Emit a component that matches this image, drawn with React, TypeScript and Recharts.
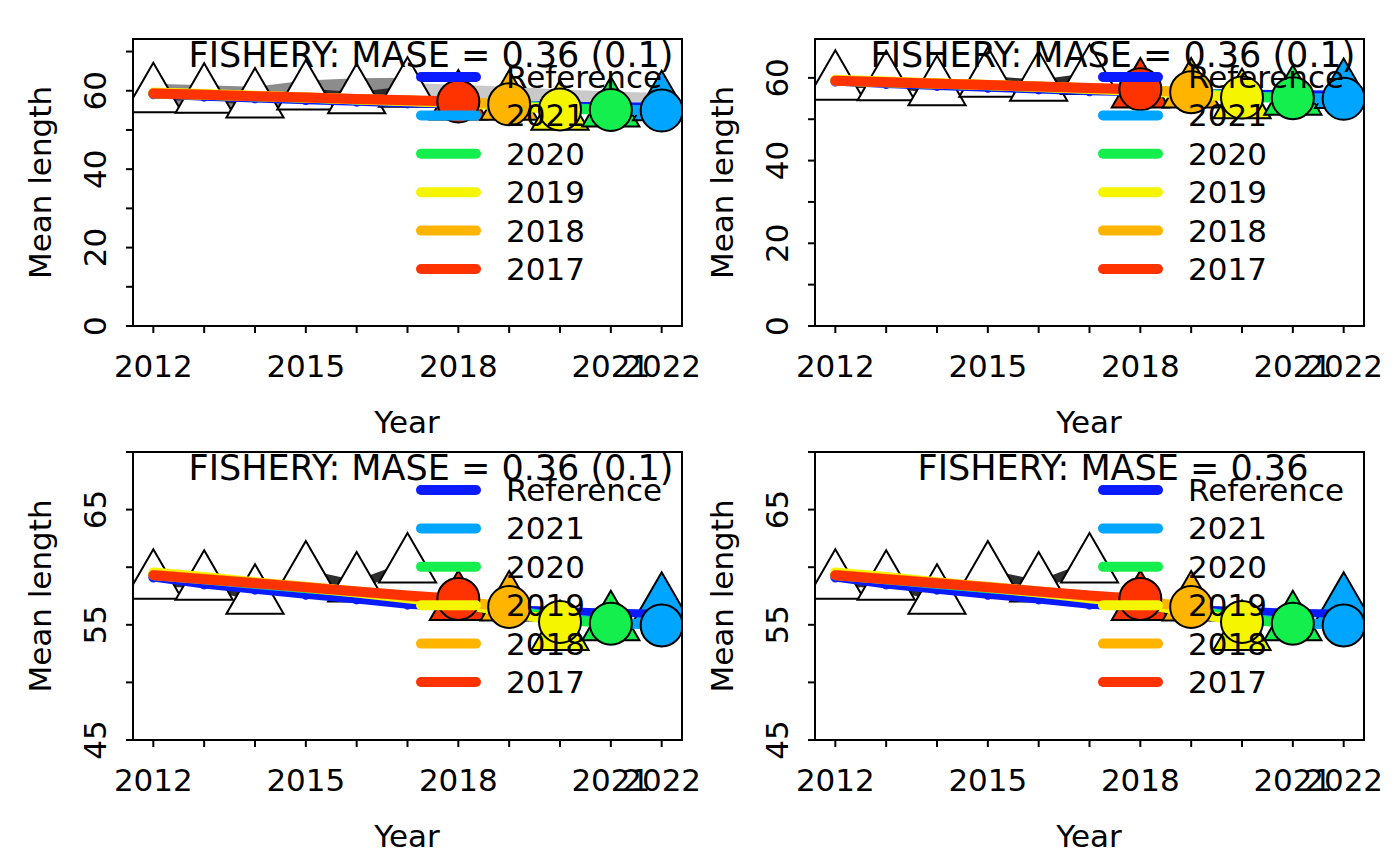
import React from 'react';
import { ComposedChart, Line, Area, Scatter, XAxis, YAxis, ReferenceArea } from 'recharts';

const years = [2012, 2013, 2014, 2015, 2016, 2017, 2018, 2019, 2020, 2021, 2022];
const labelYears = [2012, 2015, 2018, 2021, 2022];

// observed mean length (white triangles up to 2017, coloured after)
const obsMean = [58.7, 58.6, 57.4, 59.4, 58.45, 60.1, 56.85, 56.8, 54.25, 55.1, 56.7];
// reference run
const refMean = [59.1, 58.5, 58.05, 57.6, 57.2, 56.75, 56.5, 56.35, 56.2, 56.05, 55.95];
// hindcast peels, values from 2012 on
const peel2021 = [59.3, 58.95, 58.55, 58.2, 57.8, 57.45, 57.0, 56.35, 55.55, 55.2, 54.95];
const peel2020 = [59.35, 58.95, 58.6, 58.2, 57.85, 57.45, 57.0, 56.3, 55.5, 55.1];
const peel2019 = [59.55, 59.15, 58.7, 58.25, 57.8, 57.3, 56.85, 56.1, 55.25];
const peel2018 = [59.35, 59.0, 58.65, 58.3, 57.9, 57.5, 57.05, 56.55];
const peel2017 = [59.3, 58.95, 58.6, 58.25, 57.9, 57.55, 57.25];

// shaded envelopes, top-left panel only
const bandLow = [55.7, 55.6, 54.4, 56.4, 55.45, 57.1];
const bandHigh = [61.8, 61.4, 61.0, 62.6, 63.2, 63.3];
const futLow = [57.0, 56.5, 56.0, 55.3, 54.8, 54.4];
const futHigh = [62.0, 61.5, 61.0, 60.3, 59.8, 59.4];

const legendLabels = ['Reference', '2021', '2020', '2019', '2018', '2017'];

const BLUE = '#0b1bff';
const LIGHTBLUE = '#00a5ff';
const GREEN = '#14ef4e';
const YELLOW = '#f5f500';
const ORANGE = '#ffb400';
const RED = '#ff3300';
const legendColours = [BLUE, LIGHTBLUE, GREEN, YELLOW, ORANGE, RED];
const predColour: Record<number, string> = { 2018: RED, 2019: ORANGE, 2020: YELLOW, 2021: GREEN, 2022: LIGHTBLUE };

const FONT = '"DejaVu Sans", sans-serif';
const XMIN = 2011.6;
const XMAX = 2022.4;

const rows = years.map((year, i) => ({
  year,
  obs: i < 6 ? obsMean[i] : undefined,
  ref: refMean[i],
  p2021: peel2021[i],
  p2020: peel2020[i],
  p2019: peel2019[i],
  p2018: peel2018[i],
  p2017: peel2017[i],
  band: i < 6 ? [bandLow[i], bandHigh[i]] : undefined,
  fut: i >= 5 ? [futLow[i - 5], futHigh[i - 5]] : undefined,
}));

const whiteObs = years.slice(0, 6).map((year, i) => ({ year, v: obsMean[i] }));
const hindObs = years.slice(6).map((year, i) => ({ year, v: obsMean[i + 6] }));
const refPoints = years.map((year, i) => ({ year, v: refMean[i] }));
const preds = [
  { year: 2018, v: peel2017[6] },
  { year: 2019, v: peel2018[7] },
  { year: 2020, v: peel2019[8] },
  { year: 2021, v: peel2020[9] },
  { year: 2022, v: peel2021[10] },
];

const peelLines = [
  { key: 'p2021', colour: LIGHTBLUE },
  { key: 'p2020', colour: GREEN },
  { key: 'p2019', colour: YELLOW },
  { key: 'p2018', colour: ORANGE },
  { key: 'p2017', colour: RED },
];

const panels = [
  { left: 0, top: 0, xh: 106, dom: [0, 73.2], ticks: [0, 10, 20, 30, 40, 50, 60, 70], labels: [0, 20, 40, 60], title: 'FISHERY: MASE = 0.36 (0.1)', band: true },
  { left: 682, top: 0, xh: 106, dom: [0, 69.4], ticks: [0, 10, 20, 30, 40, 50, 60], labels: [0, 20, 40, 60], title: 'FISHERY: MASE = 0.36 (0.1)', band: false },
  { left: 0, top: 413, xh: 105, dom: [45, 70], ticks: [45, 50, 55, 60, 65, 70], labels: [45, 55, 65], title: 'FISHERY: MASE = 0.36 (0.1)', band: false },
  { left: 682, top: 413, xh: 105, dom: [45, 70], ticks: [45, 50, 55, 60, 65, 70], labels: [45, 55, 65], title: 'FISHERY: MASE = 0.36', band: false },
];

const TRI_R = 33;

const triangle = (fillFor: (year: number) => string) => (p: any) => {
  const { cx, cy } = p;
  const r = TRI_R;
  const pts = `${cx},${cy - r} ${cx + 0.866 * r},${cy + r / 2} ${cx - 0.866 * r},${cy + r / 2}`;
  return <polygon points={pts} fill={fillFor(p.payload.year)} stroke="#000" strokeWidth={2} />;
};

const bigDot = (p: any) => (
  <circle cx={p.cx} cy={p.cy} r={21} fill={predColour[p.payload.year]} stroke="#000" strokeWidth={2} />
);

const refDot = (p: any) => <circle cx={p.cx} cy={p.cy} r={4.5} fill={BLUE} stroke={BLUE} strokeWidth={1} />;

const XTick = (p: any) =>
  labelYears.includes(p.payload.value) ? (
    <text x={p.x} y={p.y} textAnchor="middle" fontSize={31} fontFamily={FONT} fill="#000">
      {p.payload.value}
    </text>
  ) : (
    <g />
  );

const makeYTick = (labels: number[]) => (p: any) =>
  labels.includes(p.payload.value) ? (
    <text
      x={p.x}
      y={p.y}
      transform={`rotate(-90 ${p.x} ${p.y})`}
      textAnchor="middle"
      fontSize={31}
      fontFamily={FONT}
      fill="#000"
    >
      {p.payload.value}
    </text>
  ) : (
    <g />
  );

const Panel = ({ cfg }: { cfg: (typeof panels)[number] }) => (
  <div style={{ position: 'absolute', left: cfg.left, top: cfg.top }}>
    <ComposedChart width={700} height={432} data={rows} margin={{ top: 39, right: 18, left: 0, bottom: 0 }}>
      <XAxis
        dataKey="year"
        type="number"
        domain={[XMIN, XMAX]}
        ticks={years}
        interval={0}
        allowDataOverflow
        height={cfg.xh}
        tickSize={7}
        tickMargin={44}
        stroke="#000"
        strokeWidth={2}
        tick={XTick}
      />
      <YAxis
        type="number"
        domain={cfg.dom}
        ticks={cfg.ticks}
        interval={0}
        allowDataOverflow
        width={133}
        tickSize={7}
        tickMargin={20}
        stroke="#000"
        strokeWidth={2}
        tick={makeYTick(cfg.labels)}
      />
      {cfg.band && (
        <Area dataKey="band" stroke="none" fill="#8c8c8c" fillOpacity={1} isAnimationActive={false} zIndex={101} />
      )}
      {cfg.band && (
        <Area dataKey="fut" stroke="none" fill="#c9c9c9" fillOpacity={1} isAnimationActive={false} zIndex={102} />
      )}
      <Line
        dataKey="obs"
        stroke="#2e2e2e"
        strokeWidth={9}
        strokeLinecap="round"
        strokeLinejoin="round"
        dot={false}
        isAnimationActive={false}
        zIndex={103}
      />
      <Scatter data={whiteObs} dataKey="v" shape={triangle(() => '#ffffff')} isAnimationActive={false} zIndex={104} />
      <Scatter data={hindObs} dataKey="v" shape={triangle((y) => predColour[y])} isAnimationActive={false} zIndex={105} />
      <Line
        dataKey="ref"
        stroke={BLUE}
        strokeWidth={8}
        strokeLinecap="round"
        dot={false}
        activeDot={false}
        isAnimationActive={false}
        zIndex={106}
      />
      <Scatter data={refPoints} dataKey="v" shape={refDot} isAnimationActive={false} zIndex={107} />
      {peelLines.map((s, i) => (
        <Line
          key={s.key}
          dataKey={s.key}
          stroke={s.colour}
          strokeWidth={10}
          strokeLinecap="round"
          strokeLinejoin="round"
          dot={false}
          activeDot={false}
          isAnimationActive={false}
          zIndex={108 + i}
        />
      ))}
      <Scatter data={preds} dataKey="v" shape={bigDot} isAnimationActive={false} zIndex={114} />
      <ReferenceArea
        x1={XMIN}
        x2={XMAX}
        y1={cfg.dom[0]}
        y2={cfg.dom[1]}
        fill="none"
        fillOpacity={0}
        stroke="#000"
        strokeWidth={2}
        zIndex={115}
      />
    </ComposedChart>
  </div>
);

const Overlay = () => (
  <svg width={1400} height={865} style={{ position: 'absolute', left: 0, top: 0, pointerEvents: 'none' }}>
    {panels.map((cfg, k) => {
      const L = cfg.left + 133;
      const T = cfg.top + 39;
      const B = k < 2 ? 326 : 740;
      return (
        <g key={k} fontFamily={FONT} fill="#000">
          <text x={L + 298} y={T + 28} textAnchor="middle" fontSize={35}>
            {cfg.title}
          </text>
          {legendLabels.map((lab, i) => {
            const y = T + 38 + i * 38.4;
            return (
              <g key={lab}>
                <line x1={L + 288} x2={L + 343} y1={y} y2={y} stroke={legendColours[i]} strokeWidth={10} strokeLinecap="round" />
                <text x={L + 373} y={y + 11} fontSize={31}>
                  {lab}
                </text>
              </g>
            );
          })}
          <text x={L + 274} y={B + 107} textAnchor="middle" fontSize={31}>
            Year
          </text>
          <text
            x={L - 82}
            y={(T + B) / 2}
            transform={`rotate(-90 ${L - 82} ${(T + B) / 2})`}
            textAnchor="middle"
            fontSize={31}
          >
            Mean length
          </text>
        </g>
      );
    })}
  </svg>
);

export default function App() {
  return (
    <div style={{ position: 'absolute', left: 0, top: 0, width: 1400, height: 865, background: '#fff', overflow: 'hidden' }}>
      {panels.map((cfg, k) => (
        <Panel key={k} cfg={cfg} />
      ))}
      <Overlay />
    </div>
  );
}
